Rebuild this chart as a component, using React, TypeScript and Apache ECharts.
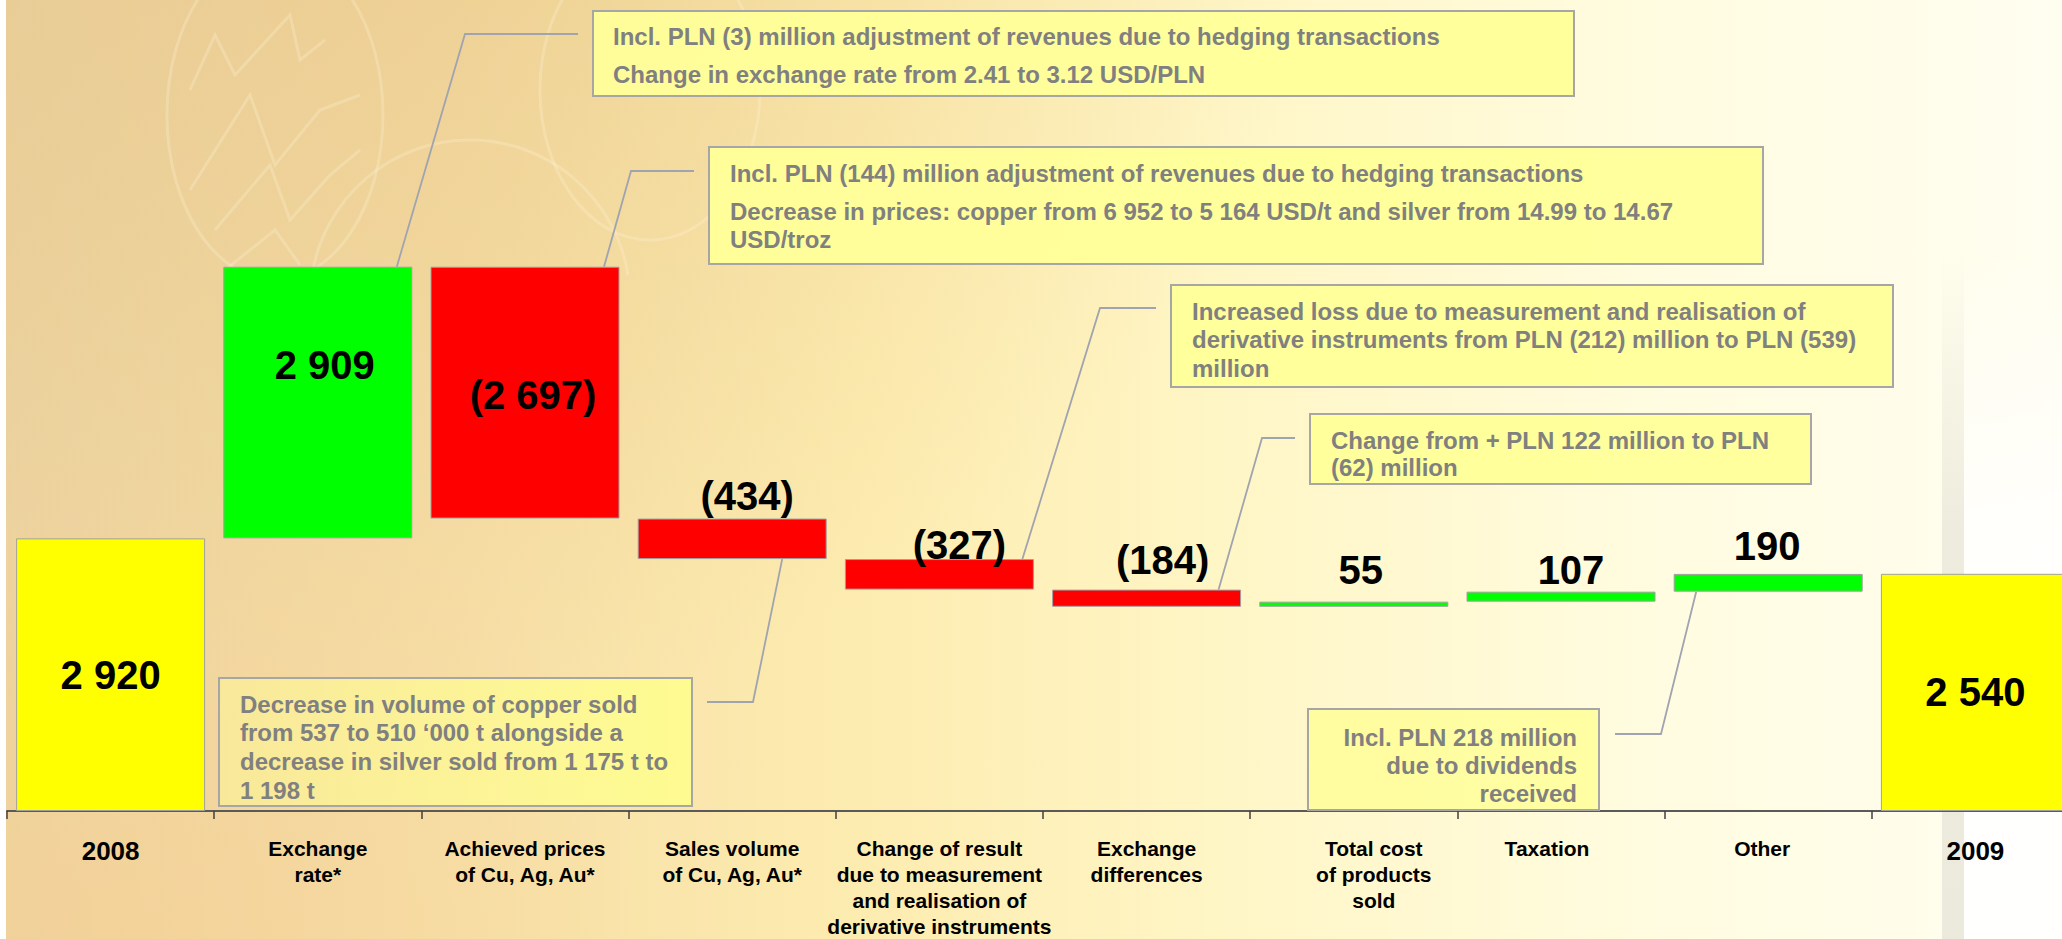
import React, { useEffect, useRef } from "react";
import * as echarts from "echarts";

// ---------- data ----------
const categories = [
  "2008",
  "Exchange\nrate*",
  "Achieved prices\nof Cu, Ag, Au*",
  "Sales volume\nof Cu, Ag, Au*",
  "Change of result\ndue to measurement\nand realisation of\nderivative instruments",
  "Exchange\ndifferences",
  "Total cost\nof products\nsold",
  "Taxation",
  "Other",
  "2009",
];
const values = [2920, 2909, -2697, -434, -327, -184, 55, 107, 190, 2540];
const isTotal = [true, false, false, false, false, false, false, false, false, true];

// annotation texts
const note1 = ["Incl. PLN (3) million adjustment of revenues due to hedging transactions", "Change in exchange rate from 2.41 to 3.12 USD/PLN"];
const note2 = ["Incl. PLN (144) million adjustment of revenues due to hedging transactions", "Decrease in prices: copper from 6 952 to 5 164 USD/t and silver from 14.99 to 14.67", "USD/troz"];
const note3 = ["Increased loss due to measurement and realisation of", "derivative instruments from PLN (212) million to PLN (539)", "million"];
const note4 = ["Change from + PLN 122 million to PLN", "(62) million"];
const note5 = ["Decrease in volume of copper sold", "from 537 to 510 \u2018000 t alongside a", "decrease in silver sold from 1 175 t to", "1 198 t"];
const note6 = ["Incl. PLN 218 million", "due to dividends", "received"];

// ---------- styling / layout ----------
const FONT = "'Liberation Sans', Arial, Helvetica, sans-serif";
const COLORS = { total: "#ffff00", up: "#00ff00", down: "#ff0000" };
const labelLayout: { pos: string; off: number[] }[] = [
  { pos: "inside", off: [0, 0] },
  { pos: "inside", off: [7, -38] },
  { pos: "inside", off: [8, 2] },
  { pos: "top", off: [15, 2] },
  { pos: "top", off: [20, 11] },
  { pos: "top", off: [16, -5] },
  { pos: "top", off: [7, -7] },
  { pos: "top", off: [10, 3] },
  { pos: "top", off: [-1, -3] },
  { pos: "inside", off: [0, 0] },
];
const axisTag = ["y", "n", "n", "n", "n", "n", "r", "l", "o", "y"];
const W = 2080;
const H = 939;

function fmt(v: number): string {
  const s = String(Math.abs(v)).replace(/\B(?=(\d{3})+(?!\d))/g, " ");
  return v < 0 ? `(${s})` : s;
}

export default function App() {
  const ref = useRef<HTMLDivElement>(null);

  useEffect(() => {
    if (!ref.current) return;
    const chart = echarts.init(ref.current, null, { renderer: "svg" });

    // waterfall decomposition
    const base: number[] = [];
    const bar: number[] = [];
    let running = 0;
    values.forEach((v, i) => {
      if (isTotal[i]) {
        base.push(0);
        bar.push(v);
        running = v;
      } else if (v >= 0) {
        base.push(running);
        bar.push(v);
        running += v;
      } else {
        running += v;
        base.push(running);
        bar.push(-v);
      }
    });

    const colorOf = (i: number) => (isTotal[i] ? COLORS.total : values[i] >= 0 ? COLORS.up : COLORS.down);

    const option: any = {
      animation: false,
      backgroundColor: "transparent",
      grid: { left: 7, top: 64, width: 2072, height: 752, containLabel: false },
      xAxis: {
        type: "category",
        data: categories,
        axisLine: { show: true, lineStyle: { color: "#5a5a5a", width: 2 } },
        axisTick: { show: true, length: 8, lineStyle: { color: "#404040", width: 1.5 } },
        axisLabel: {
          interval: 0,
          margin: 24,
          color: "#000",
          fontFamily: FONT,
          fontWeight: "bold",
          fontSize: 21,
          lineHeight: 26,
          formatter: (value: string, index: number) =>
            value
              .split("\n")
              .map((l) => `{${axisTag[index]}|${l}}`)
              .join("\n"),
          rich: {
            n: { fontSize: 21, fontWeight: "bold", fontFamily: FONT, color: "#000", lineHeight: 26 },
            y: { fontSize: 26, fontWeight: "bold", fontFamily: FONT, color: "#000", lineHeight: 32 },
            r: { fontSize: 21, fontWeight: "bold", fontFamily: FONT, color: "#000", lineHeight: 26, padding: [0, 0, 0, 40] },
            l: { fontSize: 21, fontWeight: "bold", fontFamily: FONT, color: "#000", lineHeight: 26, padding: [0, 28, 0, 0] },
            o: { fontSize: 21, fontWeight: "bold", fontFamily: FONT, color: "#000", lineHeight: 26, padding: [0, 12, 0, 0] },
          },
        },
        splitLine: { show: false },
      },
      yAxis: { type: "value", min: 0, max: 8000, show: false, splitLine: { show: false } },
      series: [
        {
          name: "base",
          type: "bar",
          stack: "w",
          barWidth: 189,
          silent: true,
          itemStyle: { color: "transparent", borderWidth: 0 },
          data: base,
        },
        {
          name: "value",
          type: "bar",
          stack: "w",
          barWidth: 189,
          itemStyle: { borderColor: "#a0a0a0", borderWidth: 1 },
          label: {
            show: true,
            color: "#000",
            fontFamily: FONT,
            fontWeight: "bold",
            fontSize: 40,
            lineHeight: 40,
            distance: 5,
            formatter: (p: any) => fmt(values[p.dataIndex]),
          },
          data: bar.map((v, i) => ({
            value: v,
            itemStyle: { color: colorOf(i) },
            label: { position: labelLayout[i].pos, offset: labelLayout[i].off },
          })),
        },
      ],
    };
    chart.setOption(option);

    const px = (i: number, v: number) => chart.convertToPixel({ gridIndex: 0 }, [i, v]) as number[];
    const topOf = (i: number) => base[i] + bar[i];
    const bottomOf = (i: number) => base[i];

    // ---------- background ----------
    const WM = "rgba(255,243,215,0.28)";
    const bg: any[] = [
      {
        type: "rect",
        shape: { x: 0, y: 0, width: W, height: H },
        style: {
          fill: new echarts.graphic.LinearGradient(0, 0, 2062, 0, [
            { offset: 0, color: "#ecd3a0" },
            { offset: 0.22, color: "#f6dea6" },
            { offset: 0.42, color: "#fdecb0" },
            { offset: 0.62, color: "#fff7c9" },
            { offset: 0.82, color: "#fffce2" },
            { offset: 1, color: "#fffef0" },
          ], true),
        },
      },
      {
        type: "rect",
        shape: { x: 0, y: 0, width: W, height: H },
        style: {
          fill: new echarts.graphic.RadialGradient(450, -200, 900, [
            { offset: 0, color: "rgba(215,170,100,0.32)" },
            { offset: 1, color: "rgba(215,170,100,0)" },
          ], true),
        },
      },
      {
        type: "rect",
        shape: { x: 0, y: 0, width: W, height: H },
        style: {
          fill: new echarts.graphic.RadialGradient(120, 960, 520, [
            { offset: 0, color: "rgba(250,205,140,0.4)" },
            { offset: 1, color: "rgba(250,205,140,0)" },
          ], true),
        },
      },
      // faint watermark
      { type: "ellipse", shape: { cx: 275, cy: 115, rx: 108, ry: 165 }, style: { fill: "none", stroke: WM, lineWidth: 3 } },
      { type: "polyline", shape: { points: [[190, 90], [215, 35], [235, 75], [290, 15], [300, 60], [325, 40]] }, style: { fill: "none", stroke: WM, lineWidth: 3 } },
      { type: "polyline", shape: { points: [[190, 190], [250, 95], [275, 165], [320, 110], [360, 95]] }, style: { fill: "none", stroke: WM, lineWidth: 3 } },
      { type: "polyline", shape: { points: [[215, 230], [270, 165], [290, 220], [330, 175], [360, 150]] }, style: { fill: "none", stroke: WM, lineWidth: 3 } },
      { type: "polyline", shape: { points: [[225, 270], [275, 230], [300, 265]] }, style: { fill: "none", stroke: WM, lineWidth: 3 } },
      { type: "arc", shape: { cx: 470, cy: 300, r: 160, startAngle: Math.PI * 1.05, endAngle: Math.PI * 1.95 }, style: { fill: "none", stroke: WM, lineWidth: 3 } },
      { type: "ellipse", shape: { cx: 650, cy: 90, rx: 110, ry: 150 }, style: { fill: "none", stroke: WM, lineWidth: 3 } },
      // white left strip
      { type: "rect", shape: { x: 0, y: 0, width: 6, height: H }, style: { fill: "#ffffff" } },
      // right-hand shading band
      {
        type: "rect",
        shape: { x: 1942, y: 250, width: 22, height: H - 250 },
        style: {
          fill: new echarts.graphic.LinearGradient(0, 0, 0, 1, [
            { offset: 0, color: "rgba(215,215,205,0)" },
            { offset: 0.4, color: "rgba(215,215,205,0.45)" },
            { offset: 1, color: "rgba(215,215,205,0.5)" },
          ]),
        },
      },
      {
        type: "rect",
        shape: { x: 1964, y: 250, width: W - 1964, height: H - 250 },
        style: {
          fill: new echarts.graphic.LinearGradient(0, 0, 0, 1, [
            { offset: 0, color: "rgba(255,255,255,0)" },
            { offset: 0.4, color: "rgba(255,255,255,0.8)" },
            { offset: 1, color: "rgba(255,255,255,0.9)" },
          ]),
        },
      },
    ].map((e) => ({ ...e, silent: true, z: -100 }));

    // ---------- annotations ----------
    const BOX_STROKE = "#a6a6a6";
    const TXT = "#808080";
    const ann: any[] = [];
    const box = (x: number, y: number, w: number, h: number, fill: any) =>
      ann.push({ type: "rect", shape: { x, y, width: w, height: h }, style: { fill, stroke: BOX_STROKE, lineWidth: 2 } });
    const text = (t: string, x: number, y: number, align = "left") =>
      ann.push({
        type: "text",
        x,
        y,
        style: {
          text: t,
          fill: TXT,
          fontFamily: FONT,
          fontWeight: "bold",
          fontSize: 24,
          align,
          verticalAlign: "middle",
          textAlign: align,
          textVerticalAlign: "middle",
        },
      });
    const conn = (pts: number[][]) =>
      ann.push({ type: "polyline", shape: { points: pts }, style: { fill: "none", stroke: "#a0a4b0", lineWidth: 1.8 } });

    const YEL = "rgba(255,255,153,0.95)";

    // box 1 — exchange rate
    box(593, 11, 981, 85, YEL);
    text(note1[0], 613, 36);
    text(note1[1], 613, 74);
    const p1 = px(1, topOf(1));
    conn([[578, 34], [465, 34], [p1[0] + 79, p1[1]]]);

    // box 2 — achieved prices
    box(709, 147, 1054, 117, YEL);
    text(note2[0], 730, 173);
    text(note2[1], 730, 211);
    text(note2[2], 730, 239);
    const p2 = px(2, topOf(2));
    conn([[694, 171], [631, 171], [p2[0] + 79, p2[1]]]);

    // box 3 — derivative instruments
    box(1171, 285, 722, 102, YEL);
    text(note3[0], 1192, 311);
    text(note3[1], 1192, 339);
    text(note3[2], 1192, 368);
    const p3 = px(4, topOf(4));
    conn([[1156, 308], [1100, 308], [p3[0] + 83, p3[1]]]);

    // box 4 — exchange differences
    box(1310, 414, 501, 70, YEL);
    text(note4[0], 1331, 440);
    text(note4[1], 1331, 467);
    const p4 = px(5, topOf(5));
    conn([[1295, 438], [1262, 438], [p4[0] + 72, p4[1]]]);

    // box 5 — sales volume
    box(219, 678, 473, 128, new echarts.graphic.LinearGradient(0, 0, 1, 0, [
      { offset: 0, color: "rgba(255,255,150,0.45)" },
      { offset: 1, color: "rgba(255,255,140,0.85)" },
    ]));
    note5.forEach((t, k) => text(t, 240, 704 + k * 28.7));
    const p5 = px(3, bottomOf(3));
    conn([[707, 702], [753, 702], [p5[0] + 50, p5[1]]]);

    // box 6 — other
    box(1308, 709, 291, 101, "rgba(255,255,140,0.7)");
    note6.forEach((t, k) => text(t, 1577, 737 + k * 28, "right"));
    const p6 = px(8, bottomOf(8));
    conn([[1615, 734], [1661, 734], [p6[0] - 72, p6[1]]]);

    chart.setOption({ graphic: [...bg, ...ann.map((e) => ({ ...e, z: 100 }))] });

    return () => chart.dispose();
  }, []);

  return (
    <div style={{ position: "absolute", left: 0, top: 0, width: 2062, height: 939, overflow: "hidden" }}>
      <div ref={ref} style={{ width: W, height: H }} />
    </div>
  );
}
